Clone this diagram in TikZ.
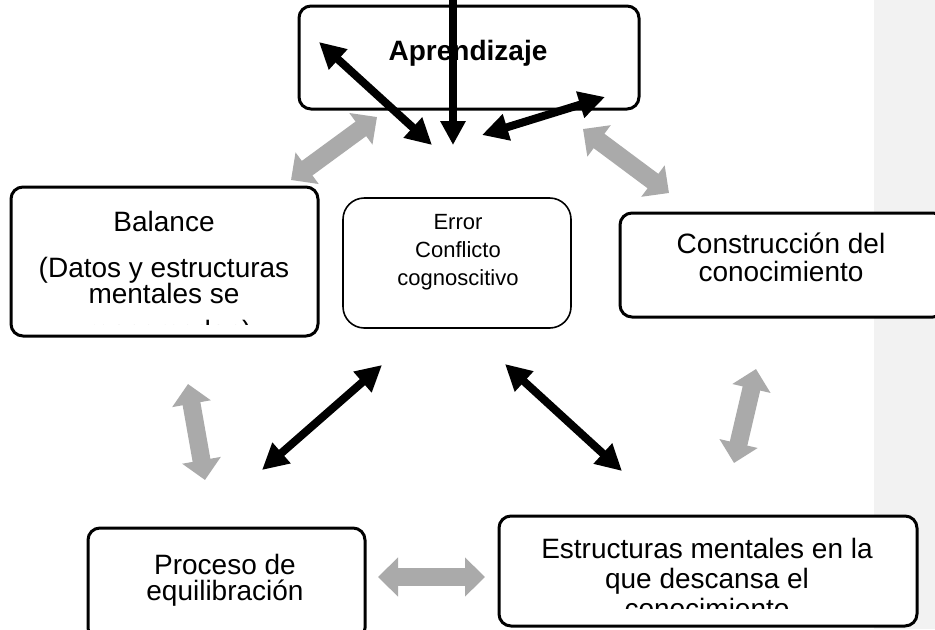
\documentclass[tikz,border=0pt]{standalone}
\usepackage{fontspec}
\setmainfont{Liberation Sans}
\usetikzlibrary{arrows.meta}
\definecolor{arrgray}{RGB}{170,170,170}
\definecolor{panelgray}{RGB}{242,242,242}
\begin{document}
\begin{tikzpicture}[x=0.75pt,y=-0.75pt,
  box/.style={draw=black, line width=2.25pt, rounded corners=9pt, fill=white, inner sep=0pt, outer sep=0pt},
  thinbox/.style={draw=black, line width=1.2pt, rounded corners=16pt, fill=white, inner sep=0pt, outer sep=0pt},
  txt/.style={font=\fontsize{21}{25}\selectfont, anchor=base, inner sep=0pt},
  smalltxt/.style={font=\fontsize{16.5}{20}\selectfont, anchor=base, inner sep=0pt},
  blackarr/.style={draw=black, line width=6pt, {Triangle[width=19.5pt,length=19.5pt]}-{Triangle[width=19.5pt,length=19.5pt]}},
  blackarrone/.style={draw=black, line width=6pt, -{Triangle[width=18pt,length=18pt]}},
  grayarr/.style={draw=arrgray, line width=13.5pt, {Triangle[width=28.5pt,length=15pt]}-{Triangle[width=28.5pt,length=15pt]}},
]
\useasboundingbox (0,0) rectangle (935,629);
\clip (0,0) rectangle (935,629);
\fill[white] (0,0) rectangle (935,629);
\fill[panelgray] (874,0) rectangle (935,629);

% boxes
\node[box, minimum width=255pt, minimum height=77.25pt] (apr) at (469,57.5) {};
\node[box, minimum width=230.25pt, minimum height=111.75pt] (bal) at (164.5,261.5) {};
\node[thinbox, minimum width=171pt, minimum height=97.5pt] (err) at (457,263) {};
\node[box, minimum width=243.75pt, minimum height=78pt] (con) at (782.5,265) {};
\node[box, minimum width=207.75pt, minimum height=84pt] (pro) at (226.5,584) {};
\node[box, minimum width=313.5pt, minimum height=82.5pt] (est) at (708,571) {};

% texts
\node[txt, font=\fontsize{21}{25}\selectfont\bfseries] (aprt) at (468,60) {Aprendizaje};

\node[txt] (bal1) at (164,231) {Balance};
\node[txt] (bal2) at (164,277) {(Datos y estructuras};
\node[txt] (bal3) at (164,303) {mentales se};
\begin{scope}
  \clip (20,190) rectangle (310,324.5);
  \node[txt] (bal4) at (169,340) {reacomodan)};
\end{scope}

\node[smalltxt] (err1) at (458,229) {Error};
\node[smalltxt] (err2) at (458,257) {Conflicto};
\node[smalltxt] (err3) at (458,285) {cognoscitivo};

\node[txt] (con1) at (781,253) {Construcción del};
\node[txt] (con2) at (781,281) {conocimiento};

\node[txt] (pro1) at (225,574) {Proceso de};
\node[txt] (pro2) at (225,600) {equilibración};

\node[txt] (est1) at (707,558) {Estructuras mentales en la};
\node[txt] (est2) at (707,588) {que descansa el};
\begin{scope}
  \clip (505,520) rectangle (910,608);
  \node[txt] (est3) at (707,618) {conocimiento};
\end{scope}

% arrow end points
\coordinate (v0) at (453,-5);
\coordinate (v1) at (453,145);
\coordinate (b1a) at (319,42);
\coordinate (b1b) at (432,145);
\coordinate (b2a) at (482,135);
\coordinate (b2b) at (605,97);
\coordinate (b3a) at (382,365);
\coordinate (b3b) at (262,470);
\coordinate (b4a) at (505,364);
\coordinate (b4b) at (622,471);

\coordinate (g1a) at (291,180);
\coordinate (g1b) at (377,117);
\coordinate (g2a) at (583,129);
\coordinate (g2b) at (669,193);
\coordinate (g3a) at (188,384);
\coordinate (g3b) at (205,480);
\coordinate (g4a) at (756,369);
\coordinate (g4b) at (734,463);
\coordinate (g5a) at (378,577);
\coordinate (g5b) at (485,577);

% gray arrows
\draw[grayarr] (g1a) -- (g1b);
\draw[grayarr] (g2a) -- (g2b);
\draw[grayarr] (g3a) -- (g3b);
\draw[grayarr] (g4a) -- (g4b);
\draw[grayarr] (g5a) -- (g5b);

% black arrows
\draw[blackarrone] (v0) -- (v1);
\draw[blackarr] (b1a) -- (b1b);
\draw[blackarr] (b2a) -- (b2b);
\draw[blackarr] (b3a) -- (b3b);
\draw[blackarr] (b4a) -- (b4b);
\end{tikzpicture}
\end{document}
